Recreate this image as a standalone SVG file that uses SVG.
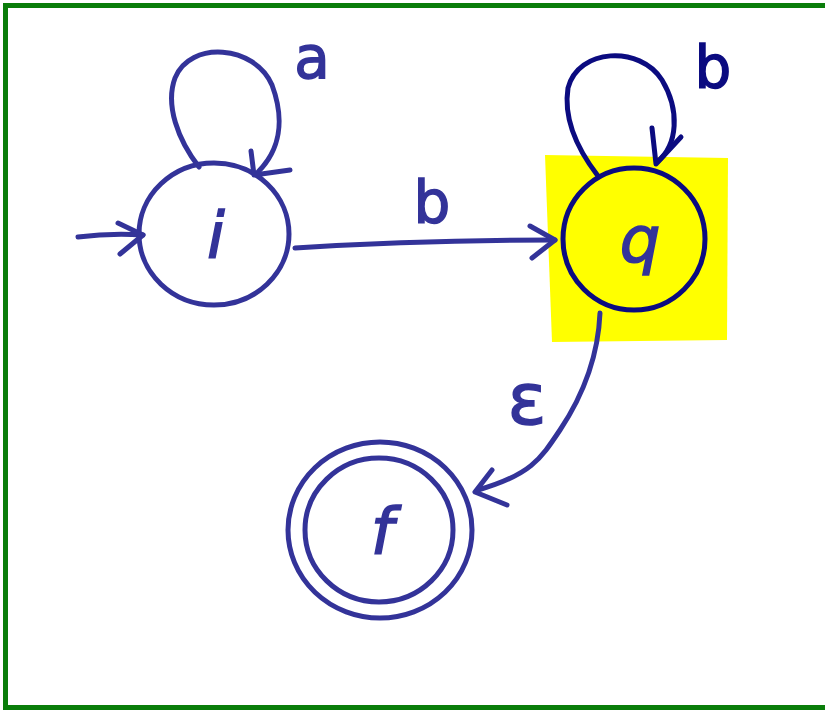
<svg xmlns="http://www.w3.org/2000/svg" width="825" height="710" viewBox="0 0 825 710">
<style>
.ink{fill:none;stroke:#333399;stroke-width:5;stroke-linecap:round;stroke-linejoin:round}
.dark{fill:none;stroke:#0b0b80;stroke-width:5;stroke-linecap:round;stroke-linejoin:round}
.lbl{font-family:"DejaVu Sans",sans-serif;fill:#333399;stroke:#333399;stroke-width:1.5;text-anchor:middle}
.dlbl{font-family:"DejaVu Sans",sans-serif;fill:#0b0b80;stroke:#0b0b80;stroke-width:1.5;text-anchor:middle}
</style>
<rect x="5.5" y="5.5" width="830" height="702" fill="#ffffff" stroke="#0a7d0a" stroke-width="5"/>
<g id="node-i">
  <ellipse class="ink" cx="214" cy="234" rx="75" ry="71"/>
  <text class="lbl" x="216" y="258" font-size="64" font-style="italic">i</text>
</g>
<g id="node-q">
  <path d="M545,155 L728,158 L727,340 L552,342 Z" fill="#ffff00"/>
  <ellipse class="dark" cx="634" cy="239" rx="71" ry="71"/>
  <text class="lbl" x="640" y="262" font-size="64" font-style="italic">q</text>
</g>
<g id="node-f">
  <ellipse class="ink" cx="380" cy="530" rx="92" ry="88"/>
  <ellipse class="ink" cx="379" cy="530" rx="74" ry="72"/>
  <text class="lbl" x="382" y="554" font-size="64" font-style="italic">f</text>
</g>
<g id="connectors">
  <g id="start">
    <path class="ink" d="M78,237 Q110,233 143,235"/>
    <path class="ink" d="M118,223 L143,235 L120,254"/>
  </g>
  <g id="loop-i">
    <path class="ink" d="M199,167 C178,140 165,105 175,78 C190,40 255,45 272,85 C285,120 280,150 258,172"/>
    <path class="ink" d="M251,151 L254,175 L290,170"/>
    <text class="lbl" x="312" y="78" font-size="58">a</text>
  </g>
  <g id="i-q">
    <path class="ink" d="M295,248 Q420,240 555,240"/>
    <path class="ink" d="M530,226 L555,240 L532,258"/>
    <text class="lbl" x="432" y="223" font-size="58">b</text>
  </g>
  <g id="loop-q">
    <path class="dark" d="M598,176 C578,150 563,120 568,88 C578,48 640,45 662,80 C680,110 678,145 657,162"/>
    <path class="dark" d="M652,128 L656,164 L681,137"/>
    <text class="dlbl" x="713" y="88" font-size="58">b</text>
  </g>
  <g id="q-f">
    <path class="ink" d="M600,313 C598,360 580,400 560,430 C540,460 530,475 478,490"/>
    <path class="ink" d="M492,470 L475,492 L507,505"/>
    <text class="lbl" x="527" y="424" font-size="72">ɛ</text>
  </g>
</g>
</svg>
